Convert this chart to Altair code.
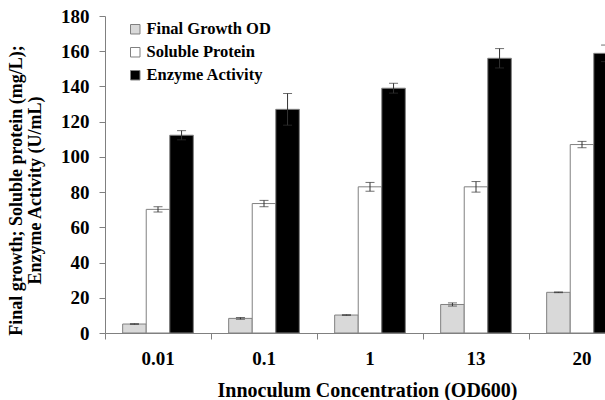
import altair as alt
import pandas as pd

categories = ["0.01", "0.1", "1", "13", "20"]
series = ["Final Growth OD", "Soluble Protein", "Enzyme Activity"]
growth = [5.1, 8.3, 10.2, 16.2, 23.1]
growth_err = [0.2, 0.5, 0.2, 0.9, 0.2]
protein = [70.2, 73.5, 83.0, 83.0, 107.0]
protein_err = [1.5, 1.8, 2.5, 3.0, 1.8]
enzyme = [112.3, 127.0, 139.0, 156.0, 158.8]
enzyme_err = [2.6, 9.0, 2.8, 5.5, 4.7]
y_ticks = [0, 20, 40, 60, 80, 100, 120, 140, 160, 180]

rows = []
for vals, errs, s in [(growth, growth_err, series[0]), (protein, protein_err, series[1]), (enzyme, enzyme_err, series[2])]:
    for c, v, e in zip(categories, vals, errs):
        rows.append({"cat": c, "series": s, "value": v, "err": e})
df = pd.DataFrame(rows)

FONT = "Liberation Serif"
AX = "#808080"

xaxis = alt.Axis(title="Innoculum Concentration (OD600)", labelAngle=0, bandPosition=0,
                 domainColor=AX, tickColor=AX, tickSize=6, labelPadding=10,
                 labelFont=FONT, labelFontSize=19, labelFontWeight="bold", labelColor="black",
                 labelBaseline="top",
                 titleFont=FONT, titleFontSize=20, titleFontWeight="bold", titleColor="black",
                 titleX=262, titleY=63, titleBaseline="alphabetic", titleAnchor="middle")
xscale = alt.Scale(range=[0, 530], paddingInner=0, paddingOuter=0)
x = alt.X("cat:N", sort=categories, scale=xscale, axis=xaxis)
xo = alt.XOffset("series:N", sort=series, scale=alt.Scale(paddingInner=0, paddingOuter=0.75))
yscale = alt.Scale(domain=[0, 180], nice=False)
yaxis = alt.Axis(title=["Final growth; Soluble protein (mg/L);", "Enzyme Activity (U/mL)"],
                 values=y_ticks, grid=False, labelOverlap=False, labelBound=False,
                 domainColor=AX, tickColor=AX, tickSize=6, labelPadding=10,
                 labelFont=FONT, labelFontSize=19, labelFontWeight="bold", labelColor="black",
                 titleFont=FONT, titleFontSize=18, titleFontWeight="bold", titleColor="black",
                 titleAngle=-90, titleBaseline="top", titleX=-98, titleY=174,
                 titleAlign="center", titleLineHeight=19)

color = alt.Color("series:N", sort=series,
                  scale=alt.Scale(domain=series, range=["#d9d9d9", "#ffffff", "#000000"]),
                  legend=alt.Legend(title=None, orient="none", legendX=22, legendY=5,
                                    symbolType="square", symbolSize=90, symbolStrokeColor=AX,
                                    symbolStrokeWidth=1, labelFont=FONT, labelFontSize=16.5,
                                    labelFontWeight="bold", labelColor="black", rowPadding=6,
                                    labelOffset=3))

base = alt.Chart(df)
bars = base.mark_bar(stroke=AX, strokeWidth=1, clip=True).encode(
    x=x, xOffset=xo, y=alt.Y("value:Q", scale=yscale, axis=yaxis), color=color)

err = base.transform_calculate(lo="datum.value - datum.err", hi="datum.value + datum.err")
rule = err.mark_rule(color="#333333", strokeWidth=1, clip=True).encode(
    x=x, xOffset=xo, y=alt.Y("lo:Q", scale=yscale, axis=yaxis), y2="hi:Q")
tick_hi = err.mark_tick(color="#333333", thickness=1, size=9, clip=True).encode(
    x=x, xOffset=xo, y=alt.Y("hi:Q", scale=yscale, axis=yaxis))
tick_lo = err.mark_tick(color="#333333", thickness=1, size=9, clip=True).encode(
    x=x, xOffset=xo, y=alt.Y("lo:Q", scale=yscale, axis=yaxis))

chart = alt.layer(bars, rule, tick_hi, tick_lo).properties(
    width=500, height=317,
    autosize=alt.AutoSizeParams(type="none"),
    padding={"left": 105, "top": 16, "right": 0, "bottom": 67},
    background="white",
).configure_view(stroke=None)

chart.save("out.html", embed_options={"renderer": "svg", "actions": False})
